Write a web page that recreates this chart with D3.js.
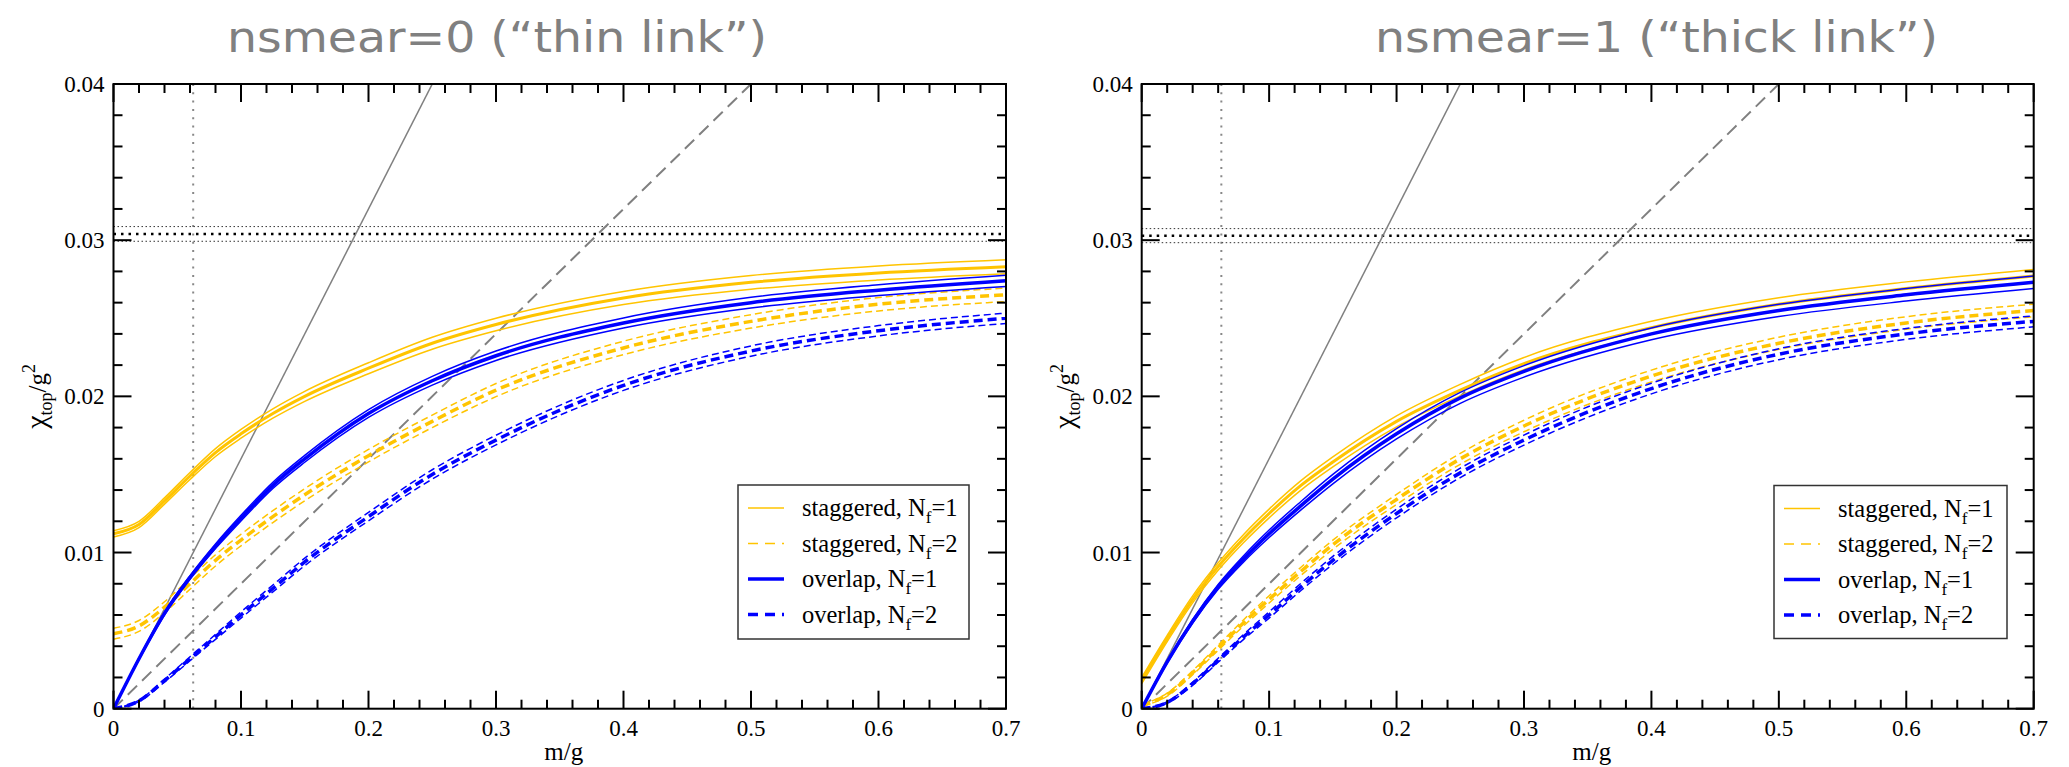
<!DOCTYPE html>
<html>
<head>
<meta charset="utf-8">
<script src="https://cdn.jsdelivr.net/npm/d3@7"></script>
<style>
  body { margin: 0; background: #fff; }
  svg { display: block; }
  text { font-family: "Liberation Serif", "Times New Roman", serif; }
</style>
</head>
<body>
<script>
var width = 2069,
    height = 767;

// m/g grid shared by all curves
var mGrid = [0, 0.02, 0.04, 0.06, 0.08, 0.1, 0.125, 0.15, 0.2, 0.25, 0.3, 0.4, 0.5, 0.6, 0.7];

// nsmear=0 : central values and half-width of the band
var thinStag1    = [0.0112, 0.0118, 0.0133, 0.0149, 0.0164, 0.0176, 0.0189, 0.0200, 0.0218, 0.0234, 0.0246, 0.0263, 0.0273, 0.0279, 0.0283];
var thinStag1Err = [0.0002, 0.0002, 0.0002, 0.00022, 0.00025, 0.00028, 0.0003, 0.00032, 0.00035, 0.00038, 0.0004, 0.00042, 0.00044, 0.00045, 0.00045];
var thinStag2    = [0.0048, 0.0053, 0.0065, 0.0080, 0.0095, 0.0108, 0.0123, 0.0137, 0.0162, 0.0184, 0.0204, 0.0231, 0.0248, 0.0259, 0.0265];
var thinStag2Err = [0.00035, 0.00035, 0.00035, 0.00035, 0.00036, 0.00037, 0.00038, 0.00039, 0.0004, 0.0004, 0.00042, 0.00043, 0.00043, 0.00043, 0.00043];
var thinOv1      = [0, 0.0032, 0.0061, 0.0084, 0.0104, 0.0122, 0.0143, 0.0160, 0.0189, 0.0210, 0.0226, 0.0247, 0.0260, 0.0268, 0.0274];
var thinOv1Err   = [0, 0.00005, 0.0001, 0.00012, 0.00015, 0.00018, 0.0002, 0.00022, 0.00025, 0.00028, 0.0003, 0.00032, 0.00034, 0.00035, 0.00036];
var thinOv2      = [0, 0.0005, 0.0018, 0.0032, 0.0046, 0.0060, 0.0077, 0.0094, 0.0123, 0.0150, 0.0172, 0.0207, 0.0229, 0.0242, 0.0250];
var thinOv2Err   = [0, 0.00005, 0.0001, 0.00013, 0.00016, 0.0002, 0.00022, 0.00024, 0.00027, 0.0003, 0.00031, 0.00032, 0.00033, 0.00033, 0.00033];

// nsmear=1
var thickStag1    = [0.0018, 0.0045, 0.0070, 0.0091, 0.0109, 0.0125, 0.0143, 0.0158, 0.0184, 0.0204, 0.0221, 0.0244, 0.0259, 0.0269, 0.0277];
var thickStag1Err = [0.0002, 0.0002, 0.00022, 0.00024, 0.00026, 0.00028, 0.0003, 0.00032, 0.00035, 0.00037, 0.00039, 0.00041, 0.00042, 0.00043, 0.00043];
var thickStag2    = [0.0002, 0.0009, 0.0023, 0.0039, 0.0055, 0.0070, 0.0088, 0.0105, 0.0134, 0.0160, 0.0181, 0.0213, 0.0234, 0.0247, 0.0255];
var thickStag2Err = [0.00005, 0.0001, 0.00013, 0.00016, 0.0002, 0.00023, 0.00026, 0.00029, 0.00032, 0.00035, 0.00037, 0.00038, 0.00039, 0.0004, 0.0004];
var thickOv1      = [0, 0.0030, 0.0056, 0.0078, 0.0096, 0.0112, 0.0130, 0.0147, 0.0176, 0.0199, 0.0216, 0.0240, 0.0255, 0.0265, 0.0273];
var thickOv1Err   = [0, 0.00008, 0.00012, 0.00016, 0.0002, 0.00024, 0.00027, 0.0003, 0.00033, 0.00035, 0.00037, 0.00038, 0.00039, 0.0004, 0.0004];
var thickOv2      = [0, 0.0004, 0.0016, 0.0031, 0.0046, 0.0060, 0.0078, 0.0095, 0.0125, 0.0151, 0.0172, 0.0205, 0.0227, 0.0240, 0.0248];
var thickOv2Err   = [0, 0.00005, 0.0001, 0.00013, 0.00016, 0.0002, 0.00023, 0.00025, 0.00028, 0.0003, 0.00032, 0.00034, 0.00035, 0.00035, 0.00035];

// reference lines: slopes of the two straight gray lines, horizontal band, vertical marker
var graySlopes = [0.16, 0.08];
var chiBand = [[0.0304, 0.00047], [0.03029, 0.00045]];
var mMarker = 0.0625;

var titles = ['nsmear=0 (\u201cthin link\u201d)', 'nsmear=1 (\u201cthick link\u201d)'];
var legendNames = ['staggered', 'staggered', 'overlap', 'overlap'];
var legendNf = ['1', '2', '1', '2'];
var xTicks = [0, 0.1, 0.2, 0.3, 0.4, 0.5, 0.6, 0.7];
var yTicks = [0, 0.01, 0.02, 0.03, 0.04];

var gold = '#ffc400', blue = '#0000ff';

var panels = [
  { left: 113.5, right: 1006, title: titles[0], titleX: 227, titleW: 540,
    legend: { x: 738, y: 485, w: 231, h: 154 }, band: chiBand[0],
    series: [[thinStag1, thinStag1Err], [thinStag2, thinStag2Err], [thinOv1, thinOv1Err], [thinOv2, thinOv2Err]] },
  { left: 1141.7, right: 2033.7, title: titles[1], titleX: 1375, titleW: 563,
    legend: { x: 1774, y: 485.5, w: 233, h: 153 }, band: chiBand[1],
    series: [[thickStag1, thickStag1Err], [thickStag2, thickStag2Err], [thickOv1, thickOv1Err], [thickOv2, thickOv2Err]] }
];

var styles = [
  { color: gold, dash: null, thin: 1.5, thick: 3 },
  { color: gold, dash: '9,5', thin: 1.5, thick: 3.5 },
  { color: blue, dash: null, thin: 1.5, thick: 3.5 },
  { color: blue, dash: '9,5', thin: 1.5, thick: 3.5 }
];

var plotTop = 84, plotBottom = 708.7;

var svg = d3.select('body')
      .append('svg')
      .attr('width', width)
      .attr('height', height);

panels.forEach(function(p) {
  var xScale = d3.scaleLinear().domain([0, 0.7]).range([p.left, p.right]);
  var yScale = d3.scaleLinear().domain([0, 0.04]).range([plotBottom, plotTop]);

  var clipId = 'clip' + Math.round(p.left);
  svg.append('clipPath').attr('id', clipId)
    .append('rect')
    .attr('x', p.left).attr('y', plotTop)
    .attr('width', p.right - p.left).attr('height', plotBottom - plotTop);

  var plot = svg.append('g').attr('clip-path', 'url(#' + clipId + ')');

  // vertical dotted marker
  plot.append('line')
    .attr('x1', xScale(mMarker)).attr('x2', xScale(mMarker))
    .attr('y1', plotTop).attr('y2', plotBottom)
    .style('stroke', '#888').style('stroke-width', 2)
    .style('stroke-dasharray', '2,6.3');

  // horizontal band
  [p.band[0] + p.band[1], p.band[0] - p.band[1]].forEach(function(v) {
    plot.append('line')
      .attr('x1', p.left).attr('x2', p.right)
      .attr('y1', yScale(v)).attr('y2', yScale(v))
      .style('stroke', '#333').style('stroke-width', 1)
      .style('stroke-dasharray', '1.5,2.5');
  });
  plot.append('line')
    .attr('x1', p.left).attr('x2', p.right)
    .attr('y1', yScale(p.band[0])).attr('y2', yScale(p.band[0]))
    .style('stroke', '#000').style('stroke-width', 2.5)
    .style('stroke-dasharray', '2.5,5');

  // straight gray lines
  graySlopes.forEach(function(s, i) {
    plot.append('line')
      .attr('x1', xScale(0)).attr('y1', yScale(0))
      .attr('x2', xScale(0.7)).attr('y2', yScale(s * 0.7))
      .style('stroke', '#808080').style('stroke-width', i ? 2 : 1.5)
      .style('stroke-dasharray', i ? '13,7' : null);
  });

  // curves: band edges thin, central thick
  p.series.forEach(function(s, k) {
    var st = styles[k];
    var vals = s[0], err = s[1];
    var pts = function(sign) {
      return mGrid.map(function(m, i) { return [m, vals[i] + sign * err[i]]; });
    };
    var line = d3.line()
      .x(function(d) { return xScale(d[0]); })
      .y(function(d) { return yScale(d[1]); })
      .curve(d3.curveMonotoneX);
    [1, -1].forEach(function(sign) {
      plot.append('path')
        .attr('d', line(pts(sign)))
        .style('fill', 'none').style('stroke', st.color)
        .style('stroke-width', st.thin)
        .style('stroke-dasharray', st.dash ? '7,4' : null);
    });
    plot.append('path')
      .attr('d', line(pts(0)))
      .style('fill', 'none').style('stroke', st.color)
      .style('stroke-width', st.thick)
      .style('stroke-dasharray', st.dash);
  });

  // frame with inward ticks on all four sides
  var frame = svg.append('g');
  frame.append('rect')
    .attr('x', p.left).attr('y', plotTop)
    .attr('width', p.right - p.left).attr('height', plotBottom - plotTop)
    .style('fill', 'none').style('stroke', '#000').style('stroke-width', 2);

  d3.range(0, 0.7001, 0.02).forEach(function(v, i) {
    var len = (i % 5 === 0) ? 18 : 9;
    var x = xScale(v);
    frame.append('line').attr('x1', x).attr('x2', x).attr('y1', plotBottom).attr('y2', plotBottom - len)
      .style('stroke', '#000').style('stroke-width', 2);
    frame.append('line').attr('x1', x).attr('x2', x).attr('y1', plotTop).attr('y2', plotTop + len)
      .style('stroke', '#000').style('stroke-width', 2);
  });
  d3.range(0, 0.04001, 0.002).forEach(function(v, i) {
    var len = (i % 5 === 0) ? 18 : 9;
    var y = yScale(v);
    frame.append('line').attr('x1', p.left).attr('x2', p.left + len).attr('y1', y).attr('y2', y)
      .style('stroke', '#000').style('stroke-width', 2);
    frame.append('line').attr('x1', p.right).attr('x2', p.right - len).attr('y1', y).attr('y2', y)
      .style('stroke', '#000').style('stroke-width', 2);
  });

  // tick labels
  frame.selectAll('.xl').data(xTicks).enter().append('text')
    .attr('x', function(d) { return xScale(d); })
    .attr('y', 736)
    .attr('text-anchor', 'middle')
    .style('font-size', '23px')
    .text(function(d) { return d3.format('')(d); });
  frame.selectAll('.yl').data(yTicks).enter().append('text')
    .attr('x', p.left - 9)
    .attr('y', function(d) { return yScale(d) + 8; })
    .attr('text-anchor', 'end')
    .style('font-size', '23px')
    .text(function(d) { return d3.format('')(d); });

  // axis titles
  frame.append('text')
    .attr('x', (p.left + p.right) / 2 + 4)
    .attr('y', 760)
    .attr('text-anchor', 'middle')
    .style('font-size', '25px')
    .text('m/g');

  var yl = frame.append('text')
    .attr('transform', 'translate(' + (p.left - 68) + ',' + ((plotTop + plotBottom) / 2) + ') rotate(-90)')
    .attr('text-anchor', 'middle')
    .style('font-size', '25px');
  yl.append('tspan').style('font-size', '30px').text('\u03c7');
  yl.append('tspan').attr('dy', 6).style('font-size', '18px').text('top');
  yl.append('tspan').attr('dy', -6).text('/g');
  yl.append('tspan').attr('dy', -11).style('font-size', '18px').text('2');

  // panel title
  svg.append('text')
    .attr('x', p.titleX)
    .attr('y', 52)
    .attr('textLength', p.titleW)
    .attr('lengthAdjust', 'spacingAndGlyphs')
    .style('font-family', '"DejaVu Sans Condensed", "Liberation Sans", sans-serif')
    .style('font-size', '42px')
    .style('fill', '#808080')
    .text(p.title);

  // legend
  var lg = svg.append('g');
  lg.append('rect')
    .attr('x', p.legend.x).attr('y', p.legend.y)
    .attr('width', p.legend.w).attr('height', p.legend.h)
    .style('fill', '#fff').style('stroke', '#333').style('stroke-width', 1.5);
  legendNames.forEach(function(name, k) {
    var st = styles[k];
    var y = p.legend.y + 23 + k * 35.5;
    lg.append('line')
      .attr('x1', p.legend.x + 10).attr('x2', p.legend.x + 46)
      .attr('y1', y).attr('y2', y)
      .style('stroke', st.color)
      .style('stroke-width', k < 2 ? 1.5 : 3.5)
      .style('stroke-dasharray', st.dash ? '10,7' : null);
    var t = lg.append('text')
      .attr('x', p.legend.x + 64)
      .attr('y', y + 8)
      .style('font-size', '24.5px');
    t.append('tspan').text(name + ', N');
    t.append('tspan').attr('dy', 7).style('font-size', '17px').text('f');
    t.append('tspan').attr('dy', -7).text('=' + legendNf[k]);
  });
});
</script>
</body>
</html>
